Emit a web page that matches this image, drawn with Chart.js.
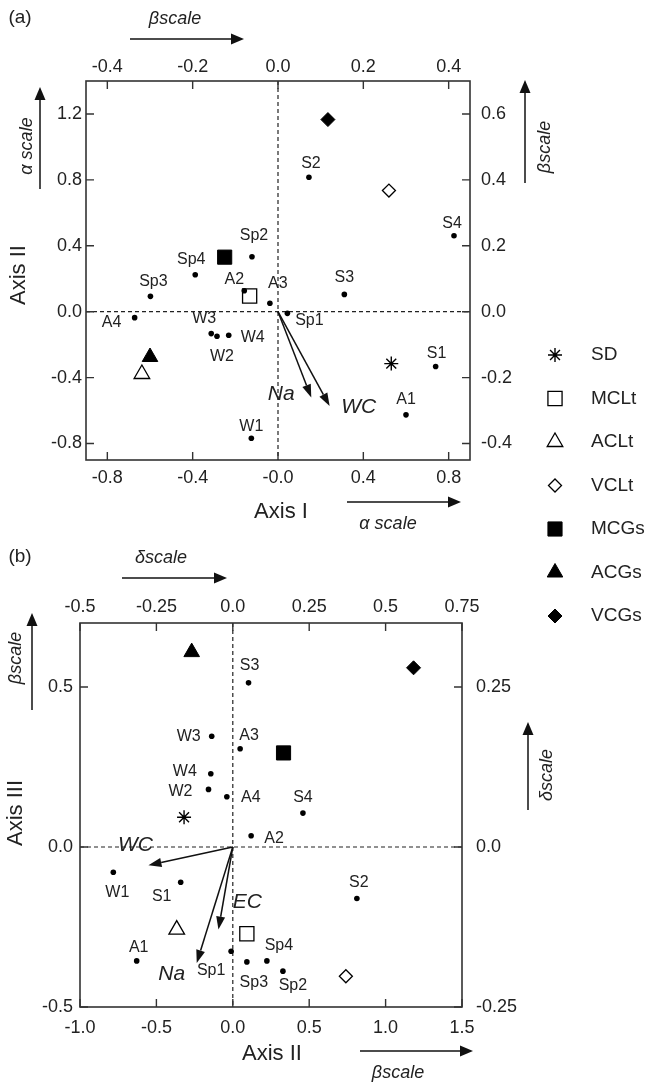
<!DOCTYPE html>
<html>
<head>
<meta charset="utf-8">
<script src="https://cdn.jsdelivr.net/npm/chart.js@4.4.1/dist/chart.umd.min.js"></script>
<style>
  html, body { margin: 0; padding: 0; background: #fff; }
  #wrap { position: relative; width: 645px; height: 1085px; }
  #chartA { position: absolute; left: 0; top: 0; }
  #chartB { position: absolute; left: 0; top: 540px; }
</style>
</head>
<body>
<div id="wrap">
  <canvas id="chartA" width="645" height="640"></canvas>
  <canvas id="chartB" width="645" height="545"></canvas>
</div>
<script>
const FONT = '"Liberation Sans", Arial, Helvetica, sans-serif';
Chart.defaults.font.family = FONT;
Chart.defaults.color = '#222';

// group centroids, same order as the legend
const groupNames = ['SD', 'MCLt', 'ACLt', 'VCLt', 'MCGs', 'ACGs', 'VCGs'];

// (a) Axis I vs Axis II
const sitesA   = ['S2', 'S4', 'Sp2', 'Sp4', 'Sp3', 'A2', 'A3', 'S3', 'Sp1', 'A4', 'W3', 'W2', 'W4', 'S1', 'A1', 'W1'];
const sitesA_x = [0.145, 0.825, -0.122, -0.388, -0.598, -0.158, -0.038, 0.311, 0.044, -0.672, -0.313, -0.286, -0.231, 0.739, 0.600, -0.125];
const sitesA_y = [0.816, 0.461, 0.333, 0.224, 0.093, 0.127, 0.051, 0.105, -0.010, -0.036, -0.133, -0.149, -0.143, -0.333, -0.626, -0.768];
const groupsA_x = [0.531, -0.133, -0.638, 0.520, -0.250, -0.600, 0.234];
const groupsA_y = [-0.315, 0.095, -0.378, 0.735, 0.331, -0.275, 1.166];
const vecA_names = ['Na', 'WC'];
const vecA_x = [0.156, 0.242];
const vecA_y = [-0.521, -0.572];

// (b) Axis II vs Axis III
const sitesB   = ['S3', 'W3', 'A3', 'W4', 'W2', 'A4', 'S4', 'A2', 'W1', 'S1', 'S2', 'A1', 'Sp1', 'Sp4', 'Sp3', 'Sp2'];
const sitesB_x = [0.103, -0.138, 0.048, -0.144, -0.159, -0.039, 0.459, 0.120, -0.782, -0.341, 0.812, -0.629, -0.011, 0.223, 0.092, 0.328];
const sitesB_y = [0.513, 0.346, 0.307, 0.229, 0.180, 0.157, 0.106, 0.035, -0.079, -0.110, -0.161, -0.356, -0.326, -0.356, -0.359, -0.388];
const groupsB_x = [-0.319, 0.092, -0.367, 0.740, 0.332, -0.269, 1.183];
const groupsB_y = [0.093, -0.271, -0.258, -0.404, 0.294, 0.609, 0.560];
const vecB_names = ['WC', 'EC', 'Na'];
const vecB_x = [-0.552, -0.094, -0.236];
const vecB_y = [-0.057, -0.258, -0.3625];

// tick values and their printed labels
const ticksA_bottom = [-0.8, -0.4, 0, 0.4, 0.8];
const labelsA_bottom = ['-0.8', '-0.4', '-0.0', '0.4', '0.8'];
const ticksA_top = [-0.4, -0.2, 0, 0.2, 0.4];
const labelsA_top = ['-0.4', '-0.2', '0.0', '0.2', '0.4'];
const ticksA_left = [-0.8, -0.4, 0, 0.4, 0.8, 1.2];
const labelsA_left = ['-0.8', '-0.4', '0.0', '0.4', '0.8', '1.2'];
const ticksA_right = [-0.4, -0.2, 0, 0.2, 0.4, 0.6];
const labelsA_right = ['-0.4', '-0.2', '0.0', '0.2', '0.4', '0.6'];

const ticksB_bottom = [-1, -0.5, 0, 0.5, 1, 1.5];
const labelsB_bottom = ['-1.0', '-0.5', '0.0', '0.5', '1.0', '1.5'];
const ticksB_top = [-0.5, -0.25, 0, 0.25, 0.5, 0.75];
const labelsB_top = ['-0.5', '-0.25', '0.0', '0.25', '0.5', '0.75'];
const ticksB_left = [-0.5, 0, 0.5];
const labelsB_left = ['-0.5', '0.0', '0.5'];
const ticksB_right = [-0.25, 0, 0.25];
const labelsB_right = ['-0.25', '0.0', '0.25'];

// marker look per group
const groupStyles = [
  { shape: 'star', r: 7, fill: '#000', bw: 1.4 },
  { shape: 'rect', r: 10, fill: '#fff', bw: 1.3 },
  { shape: 'triangle', r: 9, fill: '#fff', bw: 1.3 },
  { shape: 'rectRot', r: 6.5, fill: '#fff', bw: 1.3 },
  { shape: 'rect', r: 10, fill: '#000', bw: 1 },
  { shape: 'triangle', r: 9, fill: '#000', bw: 1 },
  { shape: 'rectRot', r: 7, fill: '#000', bw: 1 }
];

// label placement (px offsets of label centre from its dot)
const offsetsA = [[2,-14],[-2,-12],[2,-21],[-4,-15],[3,-15],[-10,-11],[8,-20],[0,-17],[22,7],[-23,5],[-7,-15],[5,20],[24,2],[1,-13],[0,-15],[0,-12]];
const offsetsB = [[1,-17],[-23,0],[9,-13],[-26,-2],[-28,2],[24,1],[0,-15],[23,3],[4,20],[-19,14],[2,-16],[2,-13],[-20,19],[12,-15],[7,21],[10,14]];
const vecOffsetsA = [[-30,-3],[29,1]];
const vecOffsetsB = [[-13,-20],[29,-27],[-25,11]];

function buildDatasets(sx, sy, gx, gy) {
  const ds = [{
    label: 'sites',
    data: sx.map((v, i) => ({ x: v, y: sy[i] })),
    pointStyle: 'circle', pointRadius: 2.8,
    backgroundColor: '#000', borderColor: '#000', borderWidth: 0
  }];
  groupNames.forEach((n, i) => {
    const st = groupStyles[i];
    ds.push({
      label: n,
      data: [{ x: gx[i], y: gy[i] }],
      pointStyle: st.shape, pointRadius: st.r,
      backgroundColor: st.fill, borderColor: '#000', borderWidth: st.bw
    });
  });
  return ds;
}

function axis(position, min, max, values, labels, size, pad) {
  return {
    type: 'linear', position, min, max,
    grid: { display: false, drawTicks: false },
    border: { display: false },
    afterBuildTicks: s => { s.ticks = values.map(v => ({ value: v })); },
    ticks: {
      padding: pad, autoSkip: false, maxRotation: 0,
      font: { size: 18 }, color: '#222',
      callback: (v, i) => labels[i]
    },
    afterFit: s => { if (s.isHorizontal()) s.height = size; else s.width = size; }
  };
}

function text(ctx, t, x, y, size, opts) {
  opts = opts || {};
  ctx.save();
  ctx.font = (opts.italic ? 'italic ' : '') + size + 'px ' + FONT;
  ctx.fillStyle = '#222';
  ctx.textAlign = opts.align || 'center';
  ctx.textBaseline = 'middle';
  ctx.translate(x, y);
  if (opts.rot) ctx.rotate(opts.rot);
  ctx.fillText(t, 0, 0);
  ctx.restore();
}

function arrow(ctx, x1, y1, x2, y2, head, half, lw) {
  const ang = Math.atan2(y2 - y1, x2 - x1);
  const bx = x2 - head * Math.cos(ang), by = y2 - head * Math.sin(ang);
  ctx.save();
  ctx.strokeStyle = '#111';
  ctx.fillStyle = '#111';
  ctx.lineWidth = lw;
  ctx.beginPath(); ctx.moveTo(x1, y1); ctx.lineTo(bx, by); ctx.stroke();
  ctx.beginPath();
  ctx.moveTo(x2, y2);
  ctx.lineTo(bx + half * Math.sin(ang), by - half * Math.cos(ang));
  ctx.lineTo(bx - half * Math.sin(ang), by + half * Math.cos(ang));
  ctx.closePath(); ctx.fill();
  ctx.restore();
}

// frame, inward ticks, zero lines, labels, vectors and captions
function makeNotes(n) {
  return {
    id: 'notes',
    beforeDatasetsDraw(chart) {
      const { ctx, chartArea: a, scales } = chart;
      ctx.save();
      const x0 = scales.x.getPixelForValue(0), y0 = scales.y.getPixelForValue(0);
      ctx.strokeStyle = '#222'; ctx.lineWidth = 1.2; ctx.setLineDash([4, 3]);
      ctx.beginPath();
      ctx.moveTo(x0, a.top); ctx.lineTo(x0, a.bottom);
      ctx.moveTo(a.left, y0); ctx.lineTo(a.right, y0);
      ctx.stroke();
      ctx.setLineDash([]);
      ctx.strokeStyle = '#333'; ctx.lineWidth = 1.6;
      ctx.strokeRect(a.left, a.top, a.width, a.height);
      ctx.lineWidth = 1.4;
      ctx.beginPath();
      scales.x.ticks.forEach(t => { const p = scales.x.getPixelForValue(t.value); ctx.moveTo(p, a.bottom); ctx.lineTo(p, a.bottom - 8); });
      scales.x2.ticks.forEach(t => { const p = scales.x2.getPixelForValue(t.value); ctx.moveTo(p, a.top); ctx.lineTo(p, a.top + 8); });
      scales.y.ticks.forEach(t => { const p = scales.y.getPixelForValue(t.value); ctx.moveTo(a.left, p); ctx.lineTo(a.left + 8, p); });
      scales.y2.ticks.forEach(t => { const p = scales.y2.getPixelForValue(t.value); ctx.moveTo(a.right, p); ctx.lineTo(a.right - 8, p); });
      ctx.stroke();
      ctx.restore();
    },
    afterDatasetsDraw(chart) {
      const { ctx, scales } = chart;
      const pts = chart.getDatasetMeta(0).data;
      n.sites.forEach((s, i) => {
        text(ctx, s, pts[i].x + n.offsets[i][0], pts[i].y + n.offsets[i][1], 16);
      });
      const x0 = scales.x.getPixelForValue(0), y0 = scales.y.getPixelForValue(0);
      n.vecNames.forEach((v, i) => {
        const tx = scales.x.getPixelForValue(n.vecX[i]), ty = scales.y.getPixelForValue(n.vecY[i]);
        arrow(ctx, x0, y0, tx, ty, 13, 4.5, 1.5);
        text(ctx, v, tx + n.vecOffsets[i][0], ty + n.vecOffsets[i][1], 21, { italic: true });
      });
      n.captions.forEach(c => text(ctx, c.t, c.x, c.y, c.size, c));
      n.arrows.forEach(r => arrow(ctx, r[0], r[1], r[2], r[3], 13, 5.5, 1.5));
      if (n.legend) {
        chart.data.datasets.slice(1).forEach((ds, i) => {
          const y = 355 + i * 43.5;
          ctx.save();
          ctx.fillStyle = ds.backgroundColor;
          ctx.strokeStyle = ds.borderColor;
          ctx.lineWidth = ds.borderWidth;
          Chart.helpers.drawPoint(ctx, { pointStyle: ds.pointStyle, radius: ds.pointRadius, borderWidth: ds.borderWidth, rotation: 0 }, 555, y);
          ctx.restore();
          text(ctx, ds.label, 591, y, 19, { align: 'left' });
        });
      }
    }
  };
}

const ROT = -Math.PI / 2;

const notesA = {
  sites: sitesA, offsets: offsetsA,
  vecNames: vecA_names, vecX: vecA_x, vecY: vecA_y, vecOffsets: vecOffsetsA,
  legend: true,
  captions: [
    { t: '(a)', x: 20, y: 18, size: 19 },
    { t: 'βscale', x: 175, y: 19, size: 18, italic: true },
    { t: 'α scale', x: 27, y: 146, size: 18, italic: true, rot: ROT },
    { t: 'Axis II', x: 19, y: 275, size: 22, rot: ROT },
    { t: 'βscale', x: 545, y: 147, size: 18, italic: true, rot: ROT },
    { t: 'Axis I', x: 281, y: 512, size: 22 },
    { t: 'α scale', x: 388, y: 524, size: 18, italic: true }
  ],
  arrows: [[130, 39, 244, 39], [40, 189, 40, 87], [525, 183, 525, 80], [347, 502, 461, 502]]
};

const notesB = {
  sites: sitesB, offsets: offsetsB,
  vecNames: vecB_names, vecX: vecB_x, vecY: vecB_y, vecOffsets: vecOffsetsB,
  legend: false,
  captions: [
    { t: '(b)', x: 20, y: 17, size: 19 },
    { t: 'δscale', x: 161, y: 18, size: 18, italic: true },
    { t: 'βscale', x: 16, y: 118, size: 18, italic: true, rot: ROT },
    { t: 'Axis III', x: 16, y: 273, size: 22, rot: ROT },
    { t: 'δscale', x: 547, y: 235, size: 18, italic: true, rot: ROT },
    { t: 'Axis II', x: 272, y: 514, size: 22 },
    { t: 'βscale', x: 398, y: 533, size: 18, italic: true }
  ],
  arrows: [[122, 38, 227, 38], [32, 170, 32, 73], [528, 270, 528, 182], [360, 511, 473, 511]]
};

function baseOptions(scales) {
  return {
    responsive: false,
    animation: false,
    events: [],
    layout: { padding: 0 },
    plugins: { legend: { display: false }, tooltip: { enabled: false } },
    scales
  };
}

new Chart(document.getElementById('chartA'), {
  type: 'scatter',
  data: { datasets: buildDatasets(sitesA_x, sitesA_y, groupsA_x, groupsA_y) },
  options: baseOptions({
    x:  axis('bottom', -0.9, 0.9, ticksA_bottom, labelsA_bottom, 180, 7),
    x2: axis('top', -0.45, 0.45, ticksA_top, labelsA_top, 81, 3),
    y:  axis('left', -0.9, 1.4, ticksA_left, labelsA_left, 86, 4),
    y2: axis('right', -0.45, 0.7, ticksA_right, labelsA_right, 175, 11)
  }),
  plugins: [makeNotes(notesA)]
});

new Chart(document.getElementById('chartB'), {
  type: 'scatter',
  data: { datasets: buildDatasets(sitesB_x, sitesB_y, groupsB_x, groupsB_y) },
  options: baseOptions({
    x:  axis('bottom', -1, 1.5, ticksB_bottom, labelsB_bottom, 78, 10),
    x2: axis('top', -0.5, 0.75, ticksB_top, labelsB_top, 83, 5),
    y:  axis('left', -0.5, 0.7, ticksB_left, labelsB_left, 80, 7),
    y2: axis('right', -0.25, 0.35, ticksB_right, labelsB_right, 183, 14)
  }),
  plugins: [makeNotes(notesB)]
});
</script>
</body>
</html>
